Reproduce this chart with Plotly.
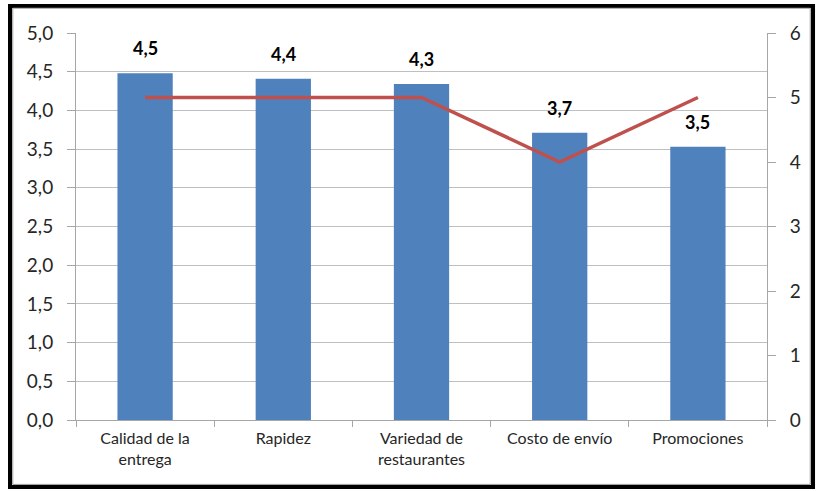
import plotly.graph_objects as go

# Valoración media por aspecto del servicio (eje izquierdo) y mediana (eje derecho)
categorias = ["Calidad de la<br>entrega", "Rapidez", "Variedad de<br>restaurantes",
              "Costo de envío", "Promociones"]
promedio = [4.48, 4.41, 4.34, 3.71, 3.53]
mediana = [5, 5, 5, 4, 5]

ticks_izq = [0, 0.5, 1, 1.5, 2, 2.5, 3, 3.5, 4, 4.5, 5]
ticks_der = [0, 1, 2, 3, 4, 5, 6]

AZUL = "#4F81BD"
ROJO = "#C0504D"
GRIS_EJE = "#A6A6A6"
GRIS_REJILLA = "#BFBFBF"
FUENTE = "Lato"

fig = go.Figure()

fig.add_trace(go.Bar(
    x=categorias, y=promedio, marker=dict(color=AZUL, line=dict(width=0)),
    width=0.4, yaxis="y", showlegend=False, hoverinfo="y",
))

fig.add_trace(go.Scatter(
    x=categorias, y=mediana, mode="lines", yaxis="y2",
    line=dict(color=ROJO, width=3.5), showlegend=False,
))

# Etiquetas de valor sobre cada barra
for cat, val in zip(categorias, promedio):
    fig.add_annotation(
        x=cat, y=val, xref="x", yref="y", text=f"<b>{val:.1f}</b>".replace(".", ","),
        showarrow=False, yanchor="bottom", yshift=12,
        font=dict(family=FUENTE, size=18, color="black"),
    )

# Marco exterior del gráfico
fig.add_shape(type="rect", xref="paper", yref="paper",
              x0=-0.0955, x1=1.0666, y0=-0.1731, y1=1.0698,
              line=dict(color="black", width=4), layer="above")
fig.add_shape(type="rect", xref="paper", yref="paper",
              x0=-0.0915, x1=1.0626, y0=-0.1664, y1=1.0640,
              line=dict(color="#9A9A9A", width=1), layer="above")

fig.update_layout(
    width=817, height=491,
    margin=dict(l=76, r=50, t=33, b=71),
    paper_bgcolor="white", plot_bgcolor="white",
    separators=",.",
    font=dict(family=FUENTE, color="#262626"),
    bargap=0.6,
    xaxis=dict(
        type="category", showgrid=False, ticks="outside", tickson="boundaries",
        ticklen=6, tickcolor=GRIS_EJE, showline=True, linecolor=GRIS_EJE,
        tickfont=dict(family=FUENTE, size=16, color="#262626"),
        ticklabelstandoff=4,
        range=[-0.5, 4.5],
    ),
    yaxis=dict(
        range=[0, 5], tickvals=ticks_izq, tickformat=".1f",
        showgrid=True, gridcolor=GRIS_REJILLA, gridwidth=1,
        showline=True, linecolor=GRIS_EJE, ticks="outside", ticklen=8,
        tickcolor=GRIS_EJE, zeroline=False, ticklabelstandoff=10,
        tickfont=dict(family=FUENTE, size=19, color="#262626"),
    ),
    yaxis2=dict(
        range=[0, 6], tickvals=ticks_der, overlaying="y", side="right",
        showgrid=False, showline=True, linecolor=GRIS_EJE, ticks="outside",
        ticklen=8, tickcolor=GRIS_EJE, zeroline=False, ticklabelstandoff=10,
        tickfont=dict(family=FUENTE, size=19, color="#262626"),
    ),
)

fig.write_html("out.html")
